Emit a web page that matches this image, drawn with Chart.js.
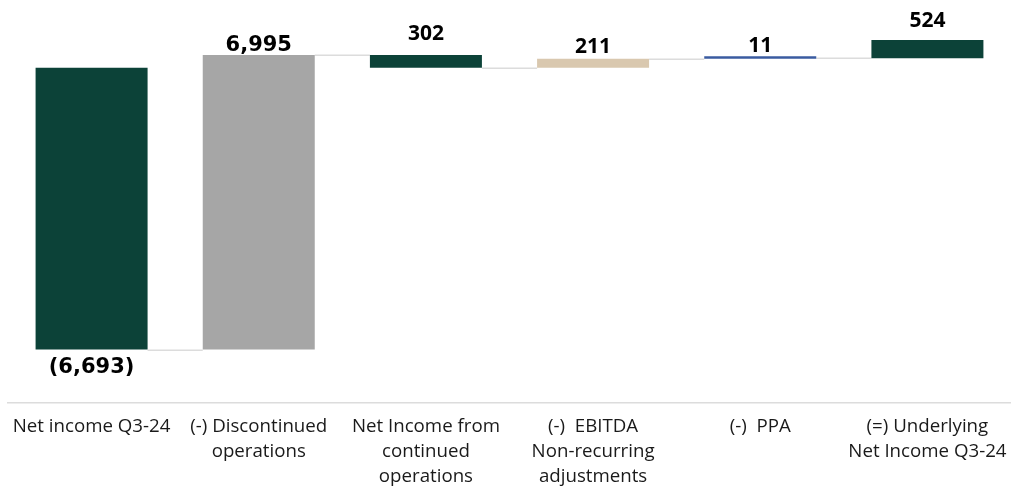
<!DOCTYPE html>
<html>
<head>
<meta charset="utf-8">
<script src="https://cdn.jsdelivr.net/npm/chart.js@4.4.1/dist/chart.umd.min.js"></script>
<style>
  html, body { margin: 0; padding: 0; background: #ffffff; }
  #wrap { width: 1011px; height: 488px; position: relative; }
</style>
</head>
<body>
<div id="wrap"><canvas id="c" width="1011" height="488"></canvas></div>
<script>
// ---- data ----
const categories = [
  ["Net income Q3-24"],
  ["(-) Discontinued", "operations"],
  ["Net Income from", "continued", "operations"],
  ["(-)  EBITDA", "Non-recurring", "adjustments"],
  ["(-)  PPA"],
  ["(=) Underlying", "Net Income Q3-24"]
];
const labelValues = [-6693, 6995, 302, 211, 11, 524];
const barStart = [0, -6693, 0, 0, 211, 222];
const barEnd = [-6693, 302, 302, 211, 222, 660];
const connectorLevels = [-6693, 302, 0, 211, 222];

// ---- styles ----
const GREEN = '#0C4238', GREY = '#A6A6A6', BEIGE = '#D9C8AF', BLUE = '#3A5BA0';
const barColors = [GREEN, GREY, GREEN, BEIGE, BLUE, GREEN];
const labelFonts = [
  'bold 21px "DejaVu Sans"', 'bold 21px "DejaVu Sans"',
  'bold 21px "Open Sans"', 'bold 21px "Open Sans"', 'bold 21px "Open Sans"', 'bold 21px "Open Sans"'
];
const labelGaps = [23.5, 4, 15, 5.5, 4, 13.3];

function fmt(v) {
  const s = Math.abs(v).toLocaleString('en-US');
  return v < 0 ? '(' + s + ')' : s;
}

const waterfallPlugin = {
  id: 'waterfall',
  beforeDatasetsDraw(chart) {
    const ctx = chart.ctx;
    const meta = chart.getDatasetMeta(0);
    const y = chart.scales.y;
    ctx.save();
    ctx.strokeStyle = '#DCDCDC';
    ctx.lineWidth = 1.5;
    for (let i = 0; i < connectorLevels.length; i++) {
      const a = meta.data[i], b = meta.data[i + 1];
      const py = Math.round(y.getPixelForValue(connectorLevels[i])) + 0.25;
      ctx.beginPath();
      ctx.moveTo(a.x + a.width / 2, py);
      ctx.lineTo(b.x - b.width / 2, py);
      ctx.stroke();
    }
    ctx.restore();
  },
  afterDatasetsDraw(chart) {
    const ctx = chart.ctx;
    const meta = chart.getDatasetMeta(0);
    ctx.save();
    ctx.fillStyle = '#000000';
    ctx.textAlign = 'center';
    ctx.textBaseline = 'alphabetic';
    meta.data.forEach((bar, i) => {
      const top = Math.min(bar.y, bar.base);
      const bottom = Math.max(bar.y, bar.base);
      ctx.font = labelFonts[i];
      const yy = labelValues[i] < 0 ? bottom + labelGaps[i] : top - labelGaps[i];
      ctx.fillText(fmt(labelValues[i]), bar.x, yy);
    });
    ctx.restore();
  }
};

new Chart(document.getElementById('c'), {
  type: 'bar',
  data: {
    labels: categories,
    datasets: [{
      data: barStart.map((s, i) => [s, barEnd[i]]),
      backgroundColor: barColors,
      borderWidth: 0,
      barPercentage: 0.67,
      categoryPercentage: 1.0,
      minBarLength: 2.5
    }]
  },
  options: {
    responsive: false,
    animation: false,
    devicePixelRatio: 1,
    layout: { padding: { left: 8, right: 0, top: 0, bottom: 0 } },
    plugins: { legend: { display: false }, tooltip: { enabled: false } },
    scales: {
      x: {
        grid: { display: false, drawTicks: false },
        border: { display: true, color: '#DCDCDC', width: 1.5 },
        ticks: {
          color: '#1a1a1a',
          font: { family: '"Open Sans"', size: 18.7, lineHeight: 1.337 },
          padding: 11,
          maxRotation: 0,
          autoSkip: false
        },
        afterFit(scale) {
          scale.height = 85;
          scale.paddingLeft = 0;
          scale.paddingRight = 0;
        }
      },
      y: {
        display: false,
        min: -7962,
        max: 1608
      }
    }
  },
  plugins: [waterfallPlugin]
});
</script>
</body>
</html>
